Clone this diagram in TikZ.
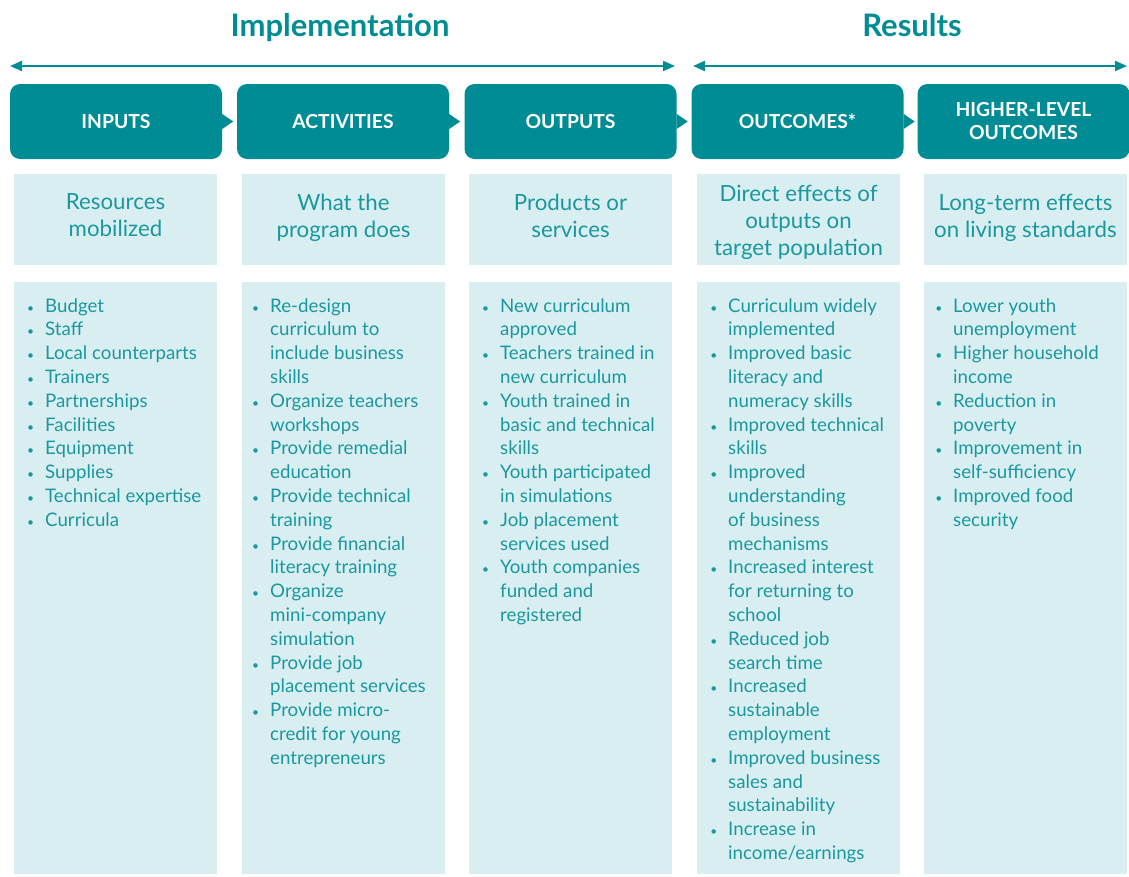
\documentclass[tikz,border=0pt]{standalone}
\usepackage{fontspec}
\setmainfont{Lato}
\usetikzlibrary{arrows.meta}
\definecolor{tealdark}{HTML}{008C95}
\definecolor{tealtext}{HTML}{1A98A0}
\definecolor{lightbg}{HTML}{D9EEF1}
\newcommand\bul{\strut\llap{{\fontsize{12}{12}\selectfont •}\hspace{11pt}}}
\begin{document}
\begin{tikzpicture}[x=1pt,y=-1pt,
  hdrbox/.style={fill=tealdark, rounded corners=10pt, minimum width=212pt, minimum height=75pt,
    text=white, font=\fontsize{19.3}{23}\selectfont\bfseries, align=center, inner sep=0pt},
  subbox/.style={fill=lightbg, minimum width=203pt, minimum height=91pt, inner sep=0pt},
  subtext/.style={text=tealtext, font=\fontsize{22.3}{27}\selectfont, align=center, inner sep=0pt},
  listbox/.style={fill=lightbg, minimum width=203pt, minimum height=592pt, inner sep=0pt},
  listtext/.style={text=tealtext, font=\fontsize{18.7}{23.8}\selectfont, align=left,
    anchor=north west, inner sep=0pt},
  title/.style={text=tealdark, font=\fontsize{31}{34}\selectfont\bfseries, anchor=base, inner sep=0pt},
  spanarrow/.style={draw=tealdark, line width=2pt, {Triangle[length=12pt,width=10pt]}-{Triangle[length=12pt,width=10pt]}},
  pointer/.style={fill=tealdark}
]
\useasboundingbox (0,0) rectangle (1129,876);

% titles
\node[title] (timpl) at (340,36.5) {Implementation};
\node[title] (tres) at (912,36.5) {Results};

% span arrows
\coordinate (impL) at (10,66);
\coordinate (impR) at (675,66);
\coordinate (resL) at (693,66);
\coordinate (resR) at (1127,66);
\draw[spanarrow] (impL) -- (impR);
\draw[spanarrow] (resL) -- (resR);

% header boxes
\node[hdrbox] (h1) at (116,121.5) {INPUTS};
\node[hdrbox] (h2) at (343,121.5) {ACTIVITIES};
\node[hdrbox] (h3) at (570.5,121.5) {OUTPUTS};
\node[hdrbox] (h4) at (797.5,121.5) {OUTCOMES*};
\node[hdrbox] (h5) at (1023.5,121.5) {HIGHER-LEVEL\\OUTCOMES};
\foreach \h in {h1,h2,h3,h4}{
  \fill[pointer] (\h.east) ++(0,-7.5) -- ++(11,7.5) -- ++(-11,7.5) -- cycle;
}

% subtitle boxes
\node[subbox] (s1) at (115.5,219.5) {};
\node[subbox] (s2) at (343.5,219.5) {};
\node[subbox] (s3) at (570.5,219.5) {};
\node[subbox] (s4) at (798.5,219.5) {};
\node[subbox] (s5) at (1025.5,219.5) {};
\node[subtext] (st1) at (115.5,215.5) {Resources\\mobilized};
\node[subtext] (st2) at (343.5,217.5) {What the\\program does};
\node[subtext] (st3) at (570.5,215.5) {Products or\\services};
\node[subtext] (st4) at (798.5,222.5) {Direct effects of\\outputs on\\target population};
\node[subtext] (st5) at (1025.5,217.5) {Long-term effects\\on living standards};

% list boxes
\node[listbox] (b1) at (115.5,578) {};
\node[listbox] (b2) at (343.5,578) {};
\node[listbox] (b3) at (570.5,578) {};
\node[listbox] (b4) at (798.5,578) {};
\node[listbox] (b5) at (1025.5,578) {};

\node[listtext] (l1) at (45,295.3) {\bul Budget\\\bul Staff\\\bul Local counterparts\\\bul Trainers\\\bul Partnerships\\\bul Facilities\\\bul Equipment\\\bul Supplies\\\bul Technical expertise\\\bul Curricula};

\node[listtext] (l2) at (270,295.3) {\bul Re-design\\curriculum to\\include business\\skills\\\bul Organize teachers\\workshops\\\bul Provide remedial\\education\\\bul Provide technical\\training\\\bul Provide financial\\literacy training\\\bul Organize\\mini-company\\simulation\\\bul Provide job\\placement services\\\bul Provide micro-\\credit for young\\entrepreneurs};

\node[listtext] (l3) at (500,295.3) {\bul New curriculum\\approved\\\bul Teachers trained in\\new curriculum\\\bul Youth trained in\\basic and technical\\skills\\\bul Youth participated\\in simulations\\\bul Job placement\\services used\\\bul Youth companies\\funded and\\registered};

\node[listtext] (l4) at (728,295.3) {\bul Curriculum widely\\implemented\\\bul Improved basic\\literacy and\\numeracy skills\\\bul Improved technical\\skills\\\bul Improved\\understanding\\of business\\mechanisms\\\bul Increased interest\\for returning to\\school\\\bul Reduced job\\search time\\\bul Increased\\sustainable\\employment\\\bul Improved business\\sales and\\sustainability\\\bul Increase in\\income/earnings};

\node[listtext] (l5) at (953,295.3) {\bul Lower youth\\unemployment\\\bul Higher household\\income\\\bul Reduction in\\poverty\\\bul Improvement in\\self-sufficiency\\\bul Improved food\\security};
\end{tikzpicture}
\end{document}
